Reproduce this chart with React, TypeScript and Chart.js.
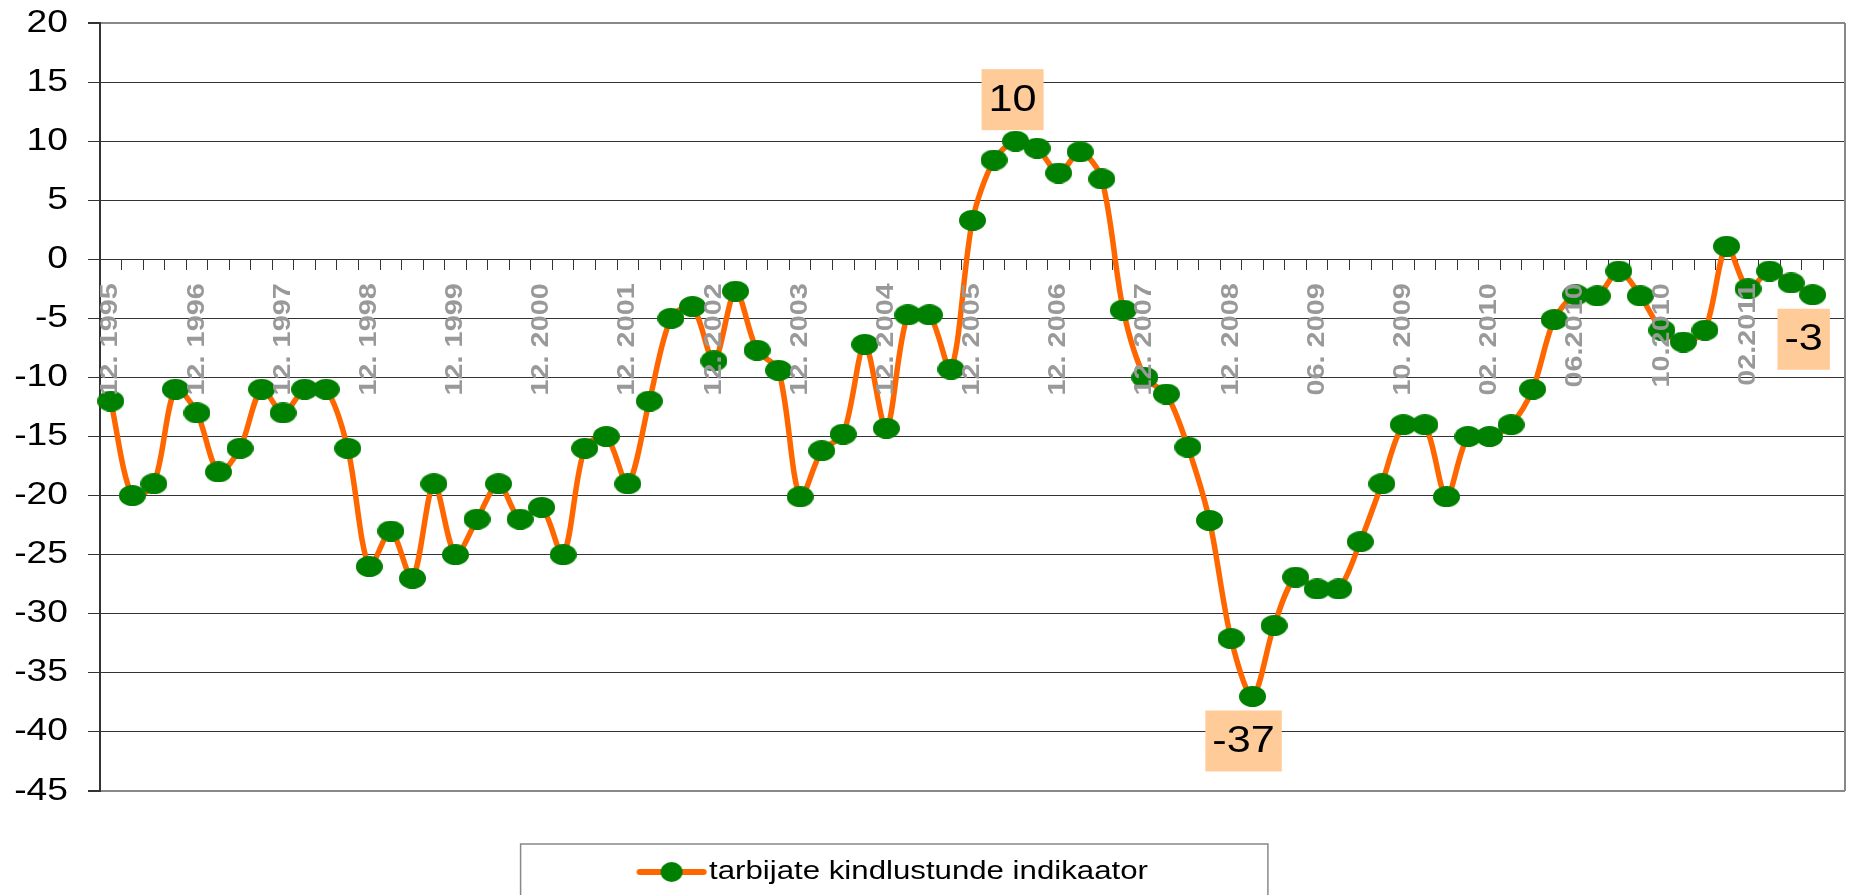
import React, { useEffect, useRef } from "react";
import { Chart, registerables } from "chart.js";

Chart.register(...registerables);

// ---- data ----
const seriesName = "tarbijate kindlustunde indikaator";

// labels shown on every 4th category
const tickLabels = [
  "12. 1995", "12. 1996", "12. 1997", "12. 1998", "12. 1999",
  "12. 2000", "12. 2001", "12. 2002", "12. 2003", "12. 2004",
  "12. 2005", "12. 2006", "12. 2007", "12. 2008", "06. 2009",
  "10. 2009", "02. 2010", "06.2010", "10.2010", "02.2011",
];

const values: (number | null)[] = [
  -12, -20, -19, -11, -13, -18, -16, -11, -13, -11,
  -11, -16, -26, -23, -27, -19, -25, -22, -19, -22,
  -21, -25, -16, -15, -19, -12, -5, -4, -8.6, -2.7,
  -7.7, -9.4, -20.1, -16.2, -14.8, -7.2, -14.3, -4.7, -4.7, -9.3,
  3.3, 8.4, 10, 9.4, 7.3, 9.1, 6.8, -4.3, -10, -11.4,
  -15.9, -22.1, -32.1, -37, -31, -26.9, -27.9, -27.9, -23.9, -19,
  -14, -14, -20.1, -15, -15, -14, -11, -5.1, -3, -3.1,
  -1, -3.1, -6, -7, -6, 1.1, -2.5, -1, -2, -3,
  null,
];

const yTicks = { min: -45, max: 20, step: 5 };

const categories = values.map((_, i) => (i % 4 === 0 ? tickLabels[i / 4] ?? "" : ""));

// ---- styles ----
const ORANGE = "#FF6600";
const GREEN = "#008000";
const FONT = "'Liberation Sans', Arial, sans-serif";
const TEXT_STRETCH = 1.2; // the original picture is horizontally stretched

function stretchText(ctx: any) {
  if (ctx.__stretched) return;
  const origFill = ctx.fillText.bind(ctx);
  const origMeasure = ctx.measureText.bind(ctx);
  ctx.fillText = (text: string, x: number, y: number, maxWidth?: number) => {
    ctx.save();
    ctx.translate(x, y);
    ctx.scale(TEXT_STRETCH, 1);
    if (maxWidth !== undefined && maxWidth !== null) origFill(text, 0, 0, maxWidth / TEXT_STRETCH);
    else origFill(text, 0, 0);
    ctx.restore();
  };
  ctx.measureText = (text: string) => {
    const m = origMeasure(text);
    return {
      width: m.width * TEXT_STRETCH,
      actualBoundingBoxLeft: m.actualBoundingBoxLeft * TEXT_STRETCH,
      actualBoundingBoxRight: m.actualBoundingBoxRight * TEXT_STRETCH,
      actualBoundingBoxAscent: m.actualBoundingBoxAscent,
      actualBoundingBoxDescent: m.actualBoundingBoxDescent,
      fontBoundingBoxAscent: m.fontBoundingBoxAscent,
      fontBoundingBoxDescent: m.fontBoundingBoxDescent,
    };
  };
  ctx.__stretched = true;
}

export default function App() {
  const ref = useRef<HTMLCanvasElement>(null);

  useEffect(() => {
    const canvas = ref.current!;
    stretchText(canvas.getContext("2d"));

    const marker = document.createElement("canvas");
    marker.width = 27;
    marker.height = 21;
    const m = marker.getContext("2d")!;
    m.fillStyle = GREEN;
    m.beginPath();
    m.ellipse(13.5, 10.5, 13.5, 10.5, 0, 0, Math.PI * 2);
    m.fill();

    const legendIcon = document.createElement("canvas");
    legendIcon.width = 72;
    legendIcon.height = 24;
    const l = legendIcon.getContext("2d")!;
    l.strokeStyle = ORANGE;
    l.lineWidth = 6;
    l.lineCap = "round";
    l.beginPath();
    l.moveTo(4, 12);
    l.lineTo(68, 12);
    l.stroke();
    l.fillStyle = GREEN;
    l.beginPath();
    l.ellipse(36, 12, 11, 10, 0, 0, Math.PI * 2);
    l.fill();

    const legendShift = {
      id: "legendShift",
      afterLayout(chart: any) {
        const lg = chart.legend;
        if (lg) {
          lg.left -= 25;
          lg.right -= 25;
        }
      },
    };

    const framePlugin = {
      id: "frame",
      beforeDatasetsDraw(chart: any) {
        const { ctx, chartArea } = chart;
        ctx.save();
        ctx.strokeStyle = "#888";
        ctx.lineWidth = 2;
        ctx.beginPath();
        ctx.moveTo(chartArea.right, chartArea.top);
        ctx.lineTo(chartArea.right, chartArea.bottom);
        ctx.stroke();
        ctx.restore();
      },
      afterDraw(chart: any) {
        const lg = chart.legend;
        if (!lg || !lg.legendHitBoxes || !lg.legendHitBoxes[0]) return;
        const hb = lg.legendHitBoxes[0];
        const ctx = chart.ctx;
        ctx.save();
        ctx.strokeStyle = "#888";
        ctx.lineWidth = 1.5;
        ctx.strokeRect(hb.left - 126.5, lg.top + 53, hb.width + 246.5, 120);
        ctx.restore();
      },
    };

    const labelPlugin = {
      id: "extremeLabels",
      afterDatasetsDraw(chart: any) {
        const meta = chart.getDatasetMeta(0);
        const data = chart.data.datasets[0].data as (number | null)[];
        let maxI = 0, minI = 0, lastI = 0;
        data.forEach((v, i) => {
          if (v == null) return;
          if (v > (data[maxI] as number)) maxI = i;
          if (v < (data[minI] as number)) minI = i;
          lastI = i;
        });
        const items: [number, boolean][] = [[maxI, true], [minI, false], [lastI, false]];
        const ctx = chart.ctx;
        ctx.save();
        ctx.font = `36px ${FONT}`;
        ctx.textAlign = "center";
        ctx.textBaseline = "middle";
        items.forEach(([i, above]) => {
          const pt = meta.data[i];
          const v = data[i] as number;
          const text = String(Math.round(v));
          const w = ctx.measureText(text).width + 14;
          const h = 61;
          const cx = pt.x + (v < 0 ? -9 : -3);
          const top = above ? pt.y - 11 - h : pt.y + 14;
          ctx.fillStyle = "#FFCC99";
          ctx.fillRect(cx - w / 2, top, w, h);
          ctx.fillStyle = "#000";
          ctx.fillText(text, cx, top + h / 2 + 1);
        });
        ctx.restore();
      },
    };

    const chart = new Chart(canvas, {
      type: "line",
      data: {
        labels: categories,
        datasets: [
          {
            label: seriesName,
            data: values,
            borderColor: ORANGE,
            backgroundColor: GREEN,
            borderWidth: 5.5,
            pointStyle: marker as any,
            pointRadius: 10,
            tension: 0.3,
            fill: false,
          },
        ],
      },
      options: {
        responsive: false,
        animation: false,
        devicePixelRatio: 1,
        events: [],
        layout: { autoPadding: false, padding: { top: 23, right: 6, left: 0, bottom: 0 } },
        scales: {
          x: {
            type: "category",
            position: { y: 0 } as any,
            offset: true,
            afterFit: (s: any) => {
              s.paddingLeft = 0;
              s.paddingRight = 0;
              s.paddingTop = 0;
              s.paddingBottom = 0;
            },
            grid: {
              offset: true,
              drawOnChartArea: false,
              tickLength: 10,
              color: "#333",
              lineWidth: 1,
            },
            border: { display: true, color: "#333", width: 1 },
            ticks: {
              autoSkip: false,
              maxRotation: 90,
              minRotation: 90,
              color: "#999999",
              padding: 14,
              z: 1,
              font: { size: 24, weight: "bold", family: FONT },
            },
          },
          y: {
            min: yTicks.min,
            max: yTicks.max,
            afterFit: (s: any) => {
              s.width = 100;
              s.paddingTop = 0;
              s.paddingBottom = 0;
            },
            ticks: {
              stepSize: yTicks.step,
              color: "#000",
              padding: 20,
              font: { size: 31, family: FONT },
            },
            grid: {
              color: (c: any) =>
                c.tick && (c.tick.value === yTicks.max || c.tick.value === yTicks.min) ? "#888" : "#333",
              lineWidth: (c: any) =>
                c.tick && (c.tick.value === yTicks.max || c.tick.value === yTicks.min) ? 2 : 1,
              tickLength: 12,
              tickColor: "#333",
            },
            border: { color: "#333", width: 2 },
          },
        },
        plugins: {
          tooltip: { enabled: false },
          legend: {
            position: "bottom",
            labels: {
              usePointStyle: true,
              pointStyleWidth: 49,
              padding: 68,
              color: "#000",
              font: { size: 26, family: FONT },
              generateLabels: () => [
                {
                  text: seriesName,
                  pointStyle: legendIcon as any,
                  fillStyle: ORANGE,
                  strokeStyle: ORANGE,
                  lineWidth: 0,
                  hidden: false,
                  datasetIndex: 0,
                  fontColor: "#000",
                } as any,
              ],
            },
          },
        },
      },
      plugins: [legendShift, framePlugin, labelPlugin],
    });

    return () => chart.destroy();
  }, []);

  return (
    <div style={{ position: "absolute", left: 0, top: 0, width: 1851, height: 895, background: "#fff" }}>
      <canvas ref={ref} width={1851} height={895} style={{ display: "block" }} />
    </div>
  );
}
